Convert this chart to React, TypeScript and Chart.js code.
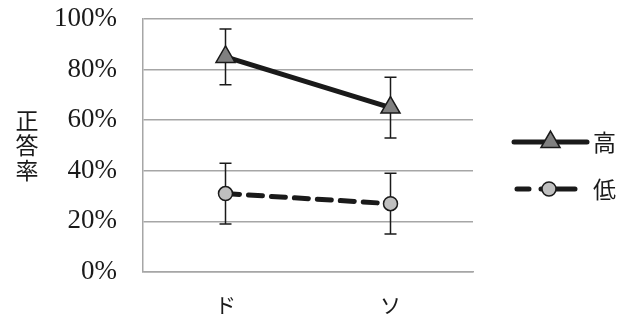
import React, { useEffect, useRef } from "react";
import { Chart, registerables } from "chart.js";

Chart.register(...registerables);

const categories = ["ド", "ソ"];
const seriesNames = ["高", "低"];
const highValues = [0.85, 0.65];
const highErrors = [0.11, 0.12];
const lowValues = [0.31, 0.27];
const lowErrors = [0.12, 0.12];
const yTickValues = [0, 0.2, 0.4, 0.6, 0.8, 1.0];
const yAxisTitle = "正答率";

const SERIF = "'Liberation Serif', 'DejaVu Serif', serif";
const CJK = "'Noto Sans CJK JP', sans-serif";

const errorBarPlugin = {
  id: "errorBars",
  beforeDatasetsDraw(chart: any) {
    const ctx = chart.ctx;
    const yScale = chart.scales.y;
    const errs = [highErrors, lowErrors];
    chart.data.datasets.forEach((ds: any, di: number) => {
      const meta = chart.getDatasetMeta(di);
      meta.data.forEach((pt: any, i: number) => {
        const v = ds.data[i];
        const e = errs[di][i];
        const x = pt.x;
        const yTop = yScale.getPixelForValue(v + e);
        const yBot = yScale.getPixelForValue(v - e);
        ctx.save();
        ctx.strokeStyle = "#1a1a1a";
        ctx.lineWidth = 1.5;
        ctx.setLineDash([]);
        ctx.beginPath();
        ctx.moveTo(x, yTop);
        ctx.lineTo(x, yBot);
        ctx.moveTo(x - 6, yTop);
        ctx.lineTo(x + 6, yTop);
        ctx.moveTo(x - 6, yBot);
        ctx.lineTo(x + 6, yBot);
        ctx.stroke();
        ctx.restore();
      });
    });
  },
};

const decorPlugin = {
  id: "decor",
  afterDraw(chart: any) {
    const ctx = chart.ctx;
    const area = chart.chartArea;
    // vertical y-axis title
    ctx.save();
    ctx.fillStyle = "#1a1a1a";
    ctx.font = `23px ${CJK}`;
    ctx.textAlign = "center";
    ctx.textBaseline = "middle";
    const chars = Array.from(yAxisTitle);
    const midY = (area.top + area.bottom) / 2;
    const step = 25;
    chars.forEach((c, i) => {
      ctx.fillText(c, 27, midY + (i - (chars.length - 1) / 2) * step);
    });
    ctx.restore();

    // legend
    const lx0 = area.right + 41;
    const lx1 = area.right + 114;
    const ys = [142, 189];
    chart.data.datasets.forEach((ds: any, di: number) => {
      const y = ys[di];
      ctx.save();
      ctx.strokeStyle = ds.borderColor;
      ctx.lineWidth = ds.borderWidth;
      ctx.lineCap = "round";
      ctx.beginPath();
      if (di === 1) {
        ctx.moveTo(lx0 + 3, y);
        ctx.lineTo(lx0 + 15, y);
        ctx.moveTo(lx0 + 27, y);
        ctx.lineTo(lx0 + 61, y);
      } else {
        ctx.moveTo(lx0, y);
        ctx.lineTo(lx1, y);
      }
      ctx.stroke();
      ctx.restore();

      const cx = di === 1 ? lx0 + 35 : (lx0 + lx1) / 2;
      ctx.save();
      ctx.fillStyle = ds.pointBackgroundColor;
      ctx.strokeStyle = ds.pointBorderColor;
      ctx.lineWidth = ds.pointBorderWidth;
      ctx.beginPath();
      if (ds.pointStyle === "triangle") {
        const r = ds.pointRadius;
        for (let k = 0; k < 3; k++) {
          const a = (k * 2 * Math.PI) / 3;
          const px = cx + Math.sin(a) * r;
          const py = y - Math.cos(a) * r;
          if (k === 0) ctx.moveTo(px, py);
          else ctx.lineTo(px, py);
        }
        ctx.closePath();
      } else {
        ctx.arc(cx, y, ds.pointRadius, 0, Math.PI * 2);
      }
      ctx.fill();
      ctx.stroke();
      ctx.restore();

      ctx.save();
      ctx.fillStyle = "#1a1a1a";
      ctx.font = `23px ${CJK}`;
      ctx.textAlign = "left";
      ctx.textBaseline = "middle";
      ctx.fillText(ds.label, lx1 + 6, y);
      ctx.restore();
    });
  },
};

export default function App() {
  const canvasRef = useRef<HTMLCanvasElement | null>(null);

  useEffect(() => {
    const canvas = canvasRef.current;
    if (!canvas) return;
    const chart = new Chart(canvas, {
      type: "line",
      data: {
        labels: categories,
        datasets: [
          {
            label: seriesNames[0],
            data: highValues,
            borderColor: "#1a1a1a",
            borderWidth: 5,
            pointStyle: "triangle",
            pointRadius: 11,
            pointBackgroundColor: "#808080",
            pointBorderColor: "#1a1a1a",
            pointBorderWidth: 1.5,
            fill: false,
          },
          {
            label: seriesNames[1],
            data: lowValues,
            borderColor: "#1a1a1a",
            borderWidth: 5,
            borderDash: [14, 9],
            borderCapStyle: "round",
            pointStyle: "circle",
            pointRadius: 7,
            pointBackgroundColor: "#bfbfbf",
            pointBorderColor: "#1a1a1a",
            pointBorderWidth: 1.5,
            fill: false,
          },
        ],
      },
      options: {
        animation: false,
        responsive: true,
        maintainAspectRatio: false,
        layout: { padding: { left: 0, right: 155, top: 19, bottom: 0 } },
        plugins: {
          legend: { display: false },
          tooltip: { enabled: false },
        },
        scales: {
          x: {
            type: "category",
            offset: true,
            grid: { display: false, drawTicks: false },
            border: { display: true, color: "#a6a6a6", width: 1.5 },
            ticks: {
              padding: 20,
              color: "#1a1a1a",
              font: { family: CJK, size: 21 },
            },
            afterFit(scale: any) {
              scale.height = 48;
              scale.paddingLeft = 0;
              scale.paddingRight = 0;
            },
          },
          y: {
            min: 0,
            max: 1,
            afterBuildTicks(scale: any) {
              scale.ticks = yTickValues.map((v) => ({ value: v }));
            },
            grid: { color: "#a6a6a6", lineWidth: 1.5, drawTicks: false },
            border: { display: true, color: "#a6a6a6", width: 1.5 },
            ticks: {
              padding: 26,
              color: "#1a1a1a",
              font: { family: SERIF, size: 27 },
              callback: (v: any) => `${Math.round(Number(v) * 100)}%`,
            },
            afterFit(scale: any) {
              scale.width = 143;
              scale.paddingTop = 0;
              scale.paddingBottom = 0;
            },
          },
        },
      },
      plugins: [errorBarPlugin, decorPlugin],
    });
    return () => chart.destroy();
  }, []);

  return (
    <div
      style={{
        position: "fixed",
        left: 0,
        top: 0,
        width: 628,
        height: 320,
        background: "#ffffff",
      }}
    >
      <canvas ref={canvasRef} />
    </div>
  );
}
